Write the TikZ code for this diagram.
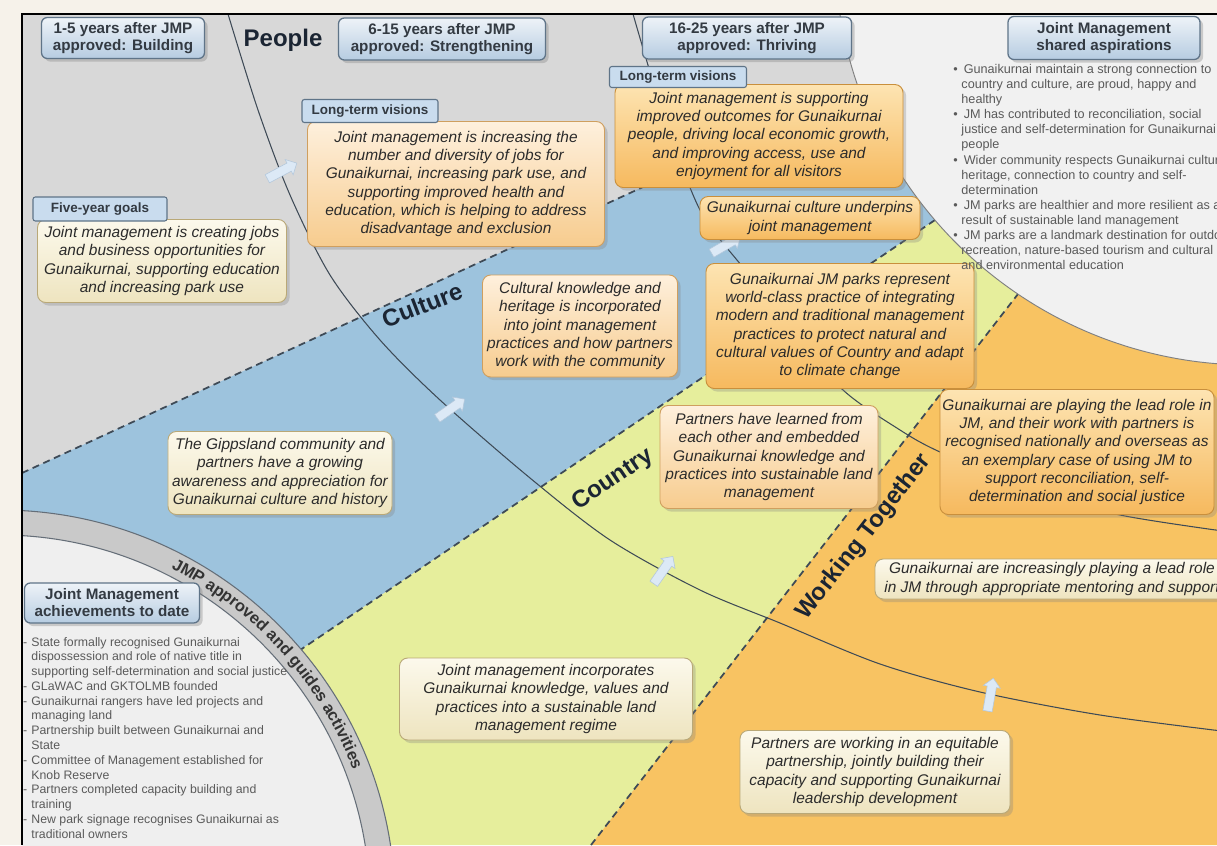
\documentclass[tikz,border=0pt]{standalone}
\usepackage{fontspec}
\setmainfont{Liberation Sans}
\usetikzlibrary{shapes.arrows,shadows,decorations.text}

\definecolor{bgcream}{HTML}{F6F2EA}
\definecolor{peoplegray}{HTML}{D8D8D8}
\definecolor{cultureblue}{HTML}{9DC3DD}
\definecolor{countrygreen}{HTML}{E6EE9C}
\definecolor{togetherorange}{HTML}{F8C362}
\definecolor{aspirewhite}{HTML}{F1F1F1}
\definecolor{ringgray}{HTML}{C9C9C9}
\definecolor{innerwhite}{HTML}{EFEFEF}
\definecolor{linegray}{HTML}{3E4A56}
\definecolor{labelnavy}{HTML}{1B2533}
\definecolor{headtop}{HTML}{EEF3F8}
\definecolor{headbot}{HTML}{B6CCE1}
\definecolor{headedge}{HTML}{5F7488}
\definecolor{headtext}{HTML}{333A42}
\definecolor{tagblue}{HTML}{C9DCEE}
\definecolor{cardtext}{HTML}{2B2B2B}
\definecolor{bulletgray}{HTML}{5A5A5A}
\definecolor{ringtext}{HTML}{333333}
\definecolor{creamtop}{HTML}{FCF9EC}
\definecolor{creambot}{HTML}{EEE4BF}
\definecolor{creamedge}{HTML}{B9A877}
\definecolor{peachtop}{HTML}{FEF0DD}
\definecolor{peachbot}{HTML}{F7CC8E}
\definecolor{peachedge}{HTML}{CF9F5F}
\definecolor{ambertop}{HTML}{FDE4B2}
\definecolor{amberbot}{HTML}{F6B95E}
\definecolor{amberedge}{HTML}{C98F3C}
\definecolor{arrowblue}{HTML}{DCE9F6}
\definecolor{arrowedge}{HTML}{B4C8DC}

\newcommand\dotitem{\makebox[9pt][l]{\textbullet}}
\newcommand\dashitem{\makebox[7pt][l]{-}}
\newcommand\contline{\hspace*{7pt}}

\begin{document}
\begin{tikzpicture}[x=0.03cm, y=-0.03cm,
    zone/.style={draw=linegray, line width=1.5pt, dash pattern=on 6pt off 4pt},
    timeline/.style={draw=linegray, line width=0.9pt},
    zonelabel/.style={font=\fontsize{20.5}{20.5}\selectfont\bfseries, text=labelnavy, inner sep=1pt},
    header/.style={draw=headedge, line width=1.1pt, rounded corners=5pt,
        top color=headtop, bottom color=headbot, drop shadow={opacity=0.35},
        font=\fontsize{13}{14.5}\selectfont\bfseries, text=headtext, align=center, inner sep=0pt},
    tag/.style={draw=headedge, line width=0.9pt, rounded corners=2pt, fill=tagblue,
        font=\fontsize{11.5}{12}\selectfont\bfseries, text=headtext, inner sep=0pt},
    card/.style={line width=0.8pt, rounded corners=7pt, drop shadow={opacity=0.3},
        font=\fontsize{13.2}{15.7}\selectfont\itshape, text=cardtext, align=center, inner sep=0pt},
    creamcard/.style={card, top color=creamtop, bottom color=creambot, draw=creamedge},
    peachcard/.style={card, top color=peachtop, bottom color=peachbot, draw=peachedge},
    ambercard/.style={card, top color=ambertop, bottom color=amberbot, draw=amberedge},
    bullets/.style={text=bulletgray, align=left, inner sep=0pt},
    flow/.style={single arrow, single arrow head extend=0.12cm, minimum height=1cm,
        inner xsep=0.2cm, inner ysep=0.13cm, fill=arrowblue, draw=arrowedge, line width=0.5pt}
]
    % 定义画布
    \useasboundingbox (0,0) rectangle (1217,845);
    \fill[bgcream] (0,0) rectangle (1217,845);

    \begin{scope}
    \clip (22,14) rectangle (1217,845);

    % 绘制四个区域
    \fill[peoplegray] (22,14) rectangle (1217,845);
    \fill[cultureblue] (22,473) -- (858,88) -- (935,220) -- (250,684) -- (22,845) -- cycle;
    \fill[countrygreen] (250,684) -- (935,220) -- (1018,294) -- (591,845) -- (250,845) -- cycle;
    \fill[togetherorange] (591,845) -- (1018,294) -- (1217,330) -- (1217,845) -- cycle;

    % 绘制虚线分界
    \draw[zone] (22,473) -- (858,88);
    \draw[zone] (250,684) -- (935,220);
    \draw[zone] (591,845) -- (1018,294);

    % 绘制时间弧线
    \draw[timeline] plot[smooth] coordinates {(228,14) (258,110) (290,195) (330,275) (380,340)
        (440,400) (530,478) (610,540) (700,590) (780,623) (880,664) (980,692) (1100,715) (1230,732)};
    \draw[timeline] plot[smooth] coordinates {(633,14) (662,110) (700,210) (745,270) (790,328)
        (843,390) (900,430) (940,452) (1030,490) (1120,515) (1230,532)};

    % 绘制目标圆和起点圆
    \filldraw[fill=aspirewhite, draw=gray, line width=0.8pt] (1250,-50) circle[radius=12.45cm];
    \filldraw[fill=ringgray, draw=linegray!80, line width=0.9pt] (0,905) circle[radius=11.85cm];
    \filldraw[fill=innerwhite, draw=linegray!80, line width=0.9pt] (0,905) circle[radius=11.1cm];
    \path[decorate, decoration={text along path, text align=center, text color=ringtext,
        text={|\fontsize{14}{14}\selectfont\bfseries|JMP approved and guides activities}}]
        plot[smooth, domain=0:50, samples=30] ({378*cos(67-\x)}, {905-378*sin(67-\x)});

    % 绘制时间推进箭头
    \node[flow, rotate=28] (step1) at (280,172) {};
    \node[flow, rotate=35] (step2) at (449,410) {};
    \node[flow, rotate=55] (step3) at (662,572) {};
    \node[flow, rotate=80] (step4) at (990,697) {};
    \node[flow, rotate=30] (step5) at (724,246) {};

    % 绘制区域名称
    \node[zonelabel] (people) at (283,40) {People};
    \node[zonelabel, rotate=21] (culture) at (422,305) {Culture};
    \node[zonelabel, rotate=34] (country) at (613,480) {Country};
    \node[zonelabel, rotate=52] (together) at (864,537) {Working Together};

    % 绘制阶段标题
    \node[header, minimum width=4.89cm, minimum height=1.23cm] (stage1) at (123,38) {1-5 years after JMP\\approved: Building};
    \node[header, minimum width=6.21cm, minimum height=1.26cm] (stage2) at (442,39) {6-15 years after JMP\\approved: Strengthening};
    \node[header, minimum width=6.27cm, minimum height=1.26cm] (stage3) at (747,38) {16-25 years after JMP\\approved: Thriving};
    \node[header, minimum width=5.76cm, minimum height=1.29cm] (aspirehead) at (1104,38) {Joint Management\\shared aspirations};
    \node[header, minimum width=5.25cm, minimum height=1.2cm] (achievehead) at (112,603) {Joint Management\\achievements to date};

    % 绘制成果卡片
    \node[creamcard, minimum width=7.47cm, minimum height=2.49cm] (goal) at (162,261)
        {Joint management is creating jobs\\and business opportunities for\\Gunaikurnai, supporting education\\and increasing park use};
    \node[peachcard, minimum width=8.91cm, minimum height=3.75cm] (vision1) at (456,184)
        {Joint management is increasing the\\number and diversity of jobs for\\Gunaikurnai, increasing park use, and\\supporting improved health and\\education, which is helping to address\\disadvantage and exclusion};
    \node[ambercard, minimum width=8.64cm, minimum height=3.09cm] (vision2) at (759,136)
        {Joint management is supporting\\improved outcomes for Gunaikurnai\\people, driving local economic growth,\\and improving access, use and\\enjoyment for all visitors};
    \node[ambercard, minimum width=6.6cm, minimum height=1.29cm] (underpin) at (810,218)
        {Gunaikurnai culture underpins\\joint management};
    \node[peachcard, minimum width=5.85cm, minimum height=3.06cm] (heritage) at (580,326)
        {Cultural knowledge and\\heritage is incorporated\\into joint management\\practices and how partners\\work with the community};
    \node[ambercard, minimum width=8.04cm, minimum height=3.75cm] (parks) at (840,326)
        {Gunaikurnai JM parks represent\\world-class practice of integrating\\modern and traditional management\\practices to protect natural and\\cultural values of Country and adapt\\to climate change};
    \node[peachcard, minimum width=6.54cm, minimum height=3.09cm] (learned) at (769,457)
        {Partners have learned from\\each other and embedded\\Gunaikurnai knowledge and\\practices into sustainable land\\management};
    \node[ambercard, minimum width=8.22cm, minimum height=3.75cm] (leadrole) at (1077,452)
        {Gunaikurnai are playing the lead role in\\JM, and their work with partners is\\recognised nationally and overseas as\\an exemplary case of using JM to\\support reconciliation, self-\\determination and social justice};
    \node[creamcard, minimum width=10.62cm, minimum height=1.2cm] (mentoring) at (1052,579)
        {Gunaikurnai are increasingly playing a lead role\\in JM through appropriate mentoring and support};
    \node[creamcard, minimum width=6.72cm, minimum height=2.49cm] (gippsland) at (280,473)
        {The Gippsland community and\\partners have a growing\\awareness and appreciation for\\Gunaikurnai culture and history};
    \node[creamcard, minimum width=8.79cm, minimum height=2.46cm] (landmgmt) at (546,699)
        {Joint management incorporates\\Gunaikurnai knowledge, values and\\practices into a sustainable land\\management regime};
    \node[creamcard, minimum width=8.1cm, minimum height=2.49cm] (partnership) at (875,772)
        {Partners are working in an equitable\\partnership, jointly building their\\capacity and supporting Gunaikurnai\\leadership development};

    % 绘制小标签
    \node[tag, minimum width=4.02cm, minimum height=0.72cm] (goaltag) at (100,209) {Five-year goals};
    \node[tag, minimum width=4.08cm, minimum height=0.69cm] (visiontag1) at (370,111) {Long-term visions};
    \node[tag, minimum width=4.11cm, minimum height=0.63cm] (visiontag2) at (678,77) {Long-term visions};

    % 绘制要点列表
    \node[bullets, font=\fontsize{10.8}{12.9}\selectfont, anchor=north west] (aspirelist) at (953,64) {%
        \dotitem Gunaikurnai maintain a strong connection to\\
        \contline country and culture, are proud, happy and\\
        \contline healthy\\
        \dotitem JM has contributed to reconciliation, social\\
        \contline justice and self-determination for Gunaikurnai\\
        \contline people\\
        \dotitem Wider community respects Gunaikurnai culture,\\
        \contline heritage, connection to country and self-\\
        \contline determination\\
        \dotitem JM parks are healthier and more resilient as a\\
        \contline result of sustainable land management\\
        \dotitem JM parks are a landmark destination for outdoor\\
        \contline recreation, nature-based tourism and cultural\\
        \contline and environmental education};
    \node[bullets, font=\fontsize{10.5}{12.6}\selectfont, anchor=north west] (achievelist) at (23,637) {%
        \dashitem State formally recognised Gunaikurnai\\
        \contline dispossession and role of native title in\\
        \contline supporting self-determination and social justice\\
        \dashitem GLaWAC and GKTOLMB founded\\
        \dashitem Gunaikurnai rangers have led projects and\\
        \contline managing land\\
        \dashitem Partnership built between Gunaikurnai and\\
        \contline State\\
        \dashitem Committee of Management established for\\
        \contline Knob Reserve\\
        \dashitem Partners completed capacity building and\\
        \contline training\\
        \dashitem New park signage recognises Gunaikurnai as\\
        \contline traditional owners};
    \end{scope}

    % 绘制外框
    \draw[line width=1pt] (22,845) -- (22,14) -- (1217,14);
\end{tikzpicture}
\end{document}
